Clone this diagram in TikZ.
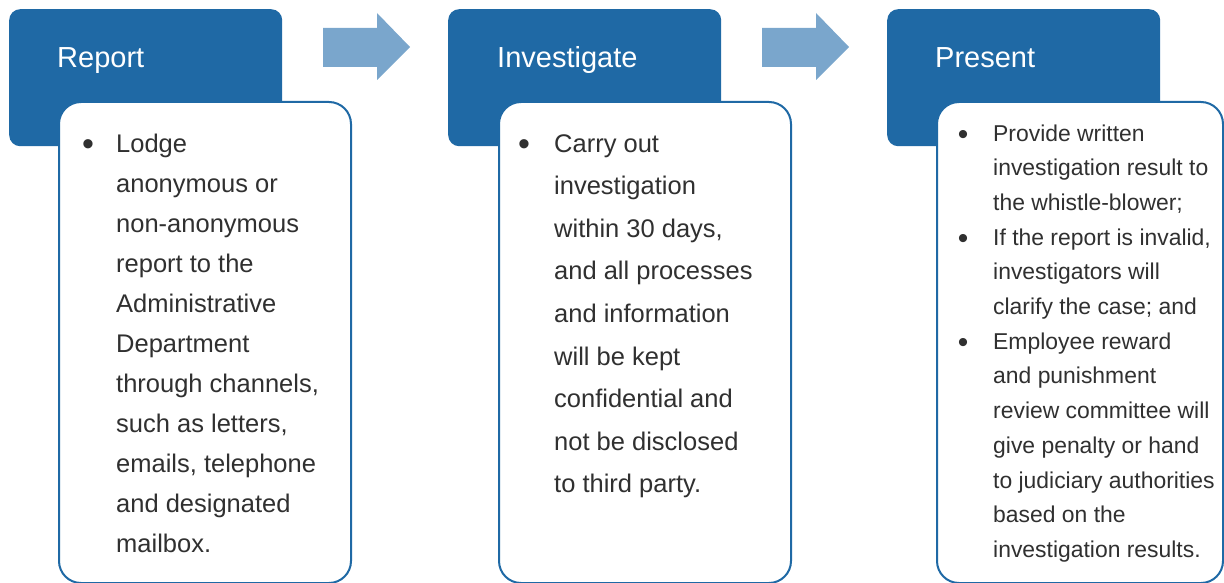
\documentclass[tikz,border=0pt]{standalone}
\usepackage{fontspec}
\setmainfont{Liberation Sans}
\definecolor{hdr}{RGB}{31,105,165}
\definecolor{arr}{RGB}{122,166,204}
\definecolor{txt}{RGB}{48,48,48}
\begin{document}
\begin{tikzpicture}[x=1pt,y=-1pt,
  hdrbox/.style={fill=hdr, draw=none, rounded corners=11pt, inner sep=0pt,
    minimum width=273pt, minimum height=137pt, anchor=north west},
  bodybox/.style={fill=white, draw=hdr, line width=2pt, rounded corners=22pt,
    inner sep=0pt, minimum height=481pt, anchor=north west},
  titletext/.style={text=white, font=\fontsize{29}{35}\selectfont, anchor=base west, inner sep=0pt},
  bodytext/.style={text=txt, anchor=base west, inner sep=0pt, align=left},
  bul/.style={text=txt, anchor=center, inner sep=0pt, font=\fontsize{34}{34}\selectfont},
  flowarrow/.style={fill=arr, draw=none}]
\useasboundingbox (0,0) rectangle (1224,583);
% header boxes
\node[hdrbox] (h1) at (9,9) {};
\node[hdrbox] (h2) at (448,9) {};
\node[hdrbox] (h3) at (887,9) {};
% arrows
\fill[flowarrow] (323,28) -- (377,28) -- (377,13) -- (410,47) -- (377,80) -- (377,67) -- (323,67) -- cycle;
\fill[flowarrow] (762,28) -- (816,28) -- (816,13) -- (849,47) -- (816,80) -- (816,67) -- (762,67) -- cycle;
% titles
\node[titletext] (t1) at (57,68) {Report};
\node[titletext] (t2) at (497,68) {Investigate};
\node[titletext] (t3) at (935,68) {Present};
% body boxes
\node[bodybox, minimum width=292pt] (b1) at (58,101) {};
\node[bodybox, minimum width=292pt] (b2) at (498,101) {};
\node[bodybox, minimum width=286pt] (b3) at (936,101) {};
% body texts (base anchor = baseline of last line)
\begin{scope}[font=\fontsize{25.5}{40}\selectfont]
\node[bodytext] (x1) at (116,552) {Lodge\\anonymous or\\non-anonymous\\report to the\\Administrative\\Department\\through channels,\\such as letters,\\emails, telephone\\and designated\\mailbox.};
\end{scope}
\node[bul] (u1) at (88,148) {•};
\begin{scope}[font=\fontsize{25.5}{42.6}\selectfont]
\node[bodytext] (x2) at (554,492.8) {Carry out\\investigation\\within 30 days,\\and all processes\\and information\\will be kept\\confidential and\\not be disclosed\\to third party.};
\end{scope}
\node[bul] (u2) at (524,148) {•};
\begin{scope}[font=\fontsize{22.9}{34.7}\selectfont]
\node[bodytext] (x3) at (993,557.4) {Provide written\\investigation result to\\the whistle-blower;\\If the report is invalid,\\investigators will\\clarify the case; and\\Employee reward\\and punishment\\review committee will\\give penalty or hand\\to judiciary authorities\\based on the\\investigation results.};
\end{scope}
\node[bul, font=\fontsize{30}{30}\selectfont] (u3a) at (963,137) {•};
\node[bul, font=\fontsize{30}{30}\selectfont] (u3b) at (963,241) {•};
\node[bul, font=\fontsize{30}{30}\selectfont] (u3c) at (963,345) {•};
\end{tikzpicture}
\end{document}
